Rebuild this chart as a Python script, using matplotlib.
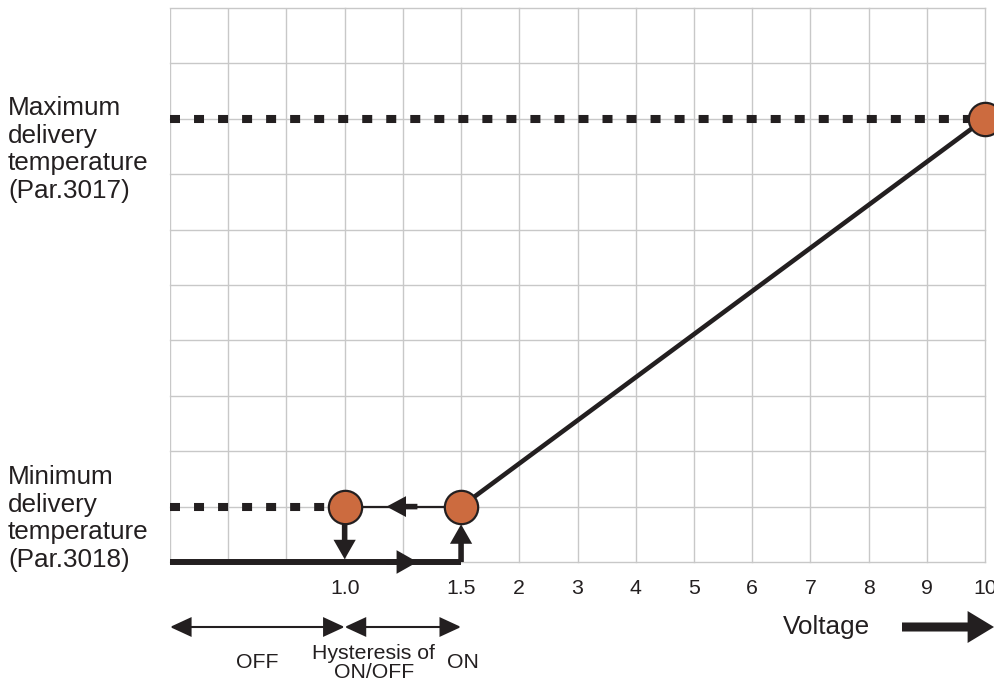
import numpy as np
import matplotlib
matplotlib.use("Agg")
import matplotlib.pyplot as plt
import matplotlib.transforms as mtransforms

plt.rcParams['font.family'] = ['Liberation Sans', 'DejaVu Sans']

# ---- data ----
voltage_ticks = [1.0, 1.5, 2, 3, 4, 5, 6, 7, 8, 9, 10]
tick_labels = ['1.0', '1.5', '2', '3', '4', '5', '6', '7', '8', '9', '10']
tick_positions = [3, 5, 6, 7, 8, 9, 10, 11, 12, 13, 14]   # grid column of each voltage tick
n_cols = 14
n_rows = 10

v_off = 1.0          # switch-off voltage
v_on = 1.5           # switch-on voltage
v_max = 10.0         # voltage for maximum temperature
level_min = 1        # minimum delivery temperature (grid row)
level_max = 8        # maximum delivery temperature (grid row)

curve_voltage = [v_on, v_max]
curve_level = [level_min, level_max]

max_label = "Maximum\ndelivery\ntemperature\n(Par.3017)"
min_label = "Minimum\ndelivery\ntemperature\n(Par.3018)"


def vpos(v):
    return np.interp(v, voltage_ticks, tick_positions)


W, H = 994, 681
fig = plt.figure(figsize=(W / 100, H / 100), dpi=100)
ax = fig.add_axes([170 / W, (H - 562) / H, 815 / W, 554 / H])
ax.set_xlim(0, n_cols)
ax.set_ylim(0, n_rows)
for s in ax.spines.values():
    s.set_visible(False)

ax.set_xticks(np.arange(0, n_cols + 1), minor=True)
ax.set_xticks(tick_positions)
ax.set_xticklabels(tick_labels, fontsize=15.3, color='#231f20')
ax.set_yticks(np.arange(0, n_rows + 1))
ax.set_yticklabels([])
ax.tick_params(which='both', length=0)
ax.tick_params(axis='x', pad=12)
ax.grid(True, which='both', color='#c8c8c8', lw=1.0)
ax.set_axisbelow(True)
for gl in ax.get_xgridlines() + ax.get_ygridlines():
    gl.set_clip_on(False)

black = '#231f20'
orange = '#cc6b3f'

x_off, x_on, x_max = vpos(v_off), vpos(v_on), vpos(v_max)

# dotted lines
lw_dot = 5.8
ls_dot = (0, (7.2 / lw_dot, 10.1 / lw_dot))
ax.plot([0, x_max], [level_max, level_max], color=black, lw=lw_dot, ls=ls_dot,
        dash_capstyle='butt', zorder=3, clip_on=False)
ax.plot([0, x_off], [level_min, level_min], color=black, lw=lw_dot, ls=ls_dot,
        dash_capstyle='butt', zorder=3)

# main curve
ax.plot([vpos(v) for v in curve_voltage], curve_level, color=black, lw=3.3,
        zorder=4, solid_capstyle='butt')
# thin connection between off and on
ax.plot([x_off, x_on], [level_min, level_min], color=black, lw=1.6, zorder=4)
# bottom thick line (off state)
ax.plot([0, x_on], [0, 0], color=black, lw=4.3, zorder=4, clip_on=False,
        solid_capstyle='butt')

mid = (x_off + x_on) / 2


def simple_arrow(tip, tail, hl=14, hw=16, tw=4.0, **kw):
    style = f'simple,head_length={hl},head_width={hw},tail_width={tw}'
    ax.annotate('', xy=tip, xytext=tail,
                arrowprops=dict(arrowstyle=style, mutation_scale=1, fc=black,
                                ec='none', lw=0, shrinkA=0, shrinkB=0),
                annotation_clip=False, zorder=5, **kw)


# left arrow on min line
simple_arrow((mid - 0.28, level_min), (mid + 0.25, level_min), hl=14, hw=15, tw=4.0)
# right arrow on bottom line
simple_arrow((mid + 0.25, 0), (mid - 0.28, 0), hl=15, hw=17, tw=4.3)
# down arrow at off
simple_arrow((x_off, 0.05), (x_off, 0.75), hl=14, hw=16, tw=4.0)
# up arrow at on
simple_arrow((x_on, 0.68), (x_on, 0.0), hl=14, hw=16, tw=4.0)

# circles
ax.plot([x_off, x_on, x_max], [level_min, level_min, level_max], 'o', ms=24,
        mfc=orange, mec=black, mew=1.6, zorder=6, clip_on=False)

# left labels
fig.text(8 / W, 1 - 96 / H, max_label, fontsize=18.8, color=black, va='top',
         ha='left', linespacing=1.19)
fig.text(8 / W, 1 - 465 / H, min_label, fontsize=18.8, color=black, va='top',
         ha='left', linespacing=1.19)

# bottom range arrows
y_arr = 1 - 627 / H
bt = mtransforms.blended_transform_factory(ax.transData, fig.transFigure)
dbl = dict(arrowstyle='<|-|>,head_length=1.3,head_width=0.6', mutation_scale=10,
           color=black, lw=1.5, shrinkA=0, shrinkB=0, joinstyle='miter')
ax.annotate('', xy=(x_off, y_arr), xytext=(0, y_arr),
            xycoords=('data', 'figure fraction'), textcoords=('data', 'figure fraction'),
            arrowprops=dbl, annotation_clip=False)
ax.annotate('', xy=(x_on, y_arr), xytext=(x_off, y_arr),
            xycoords=('data', 'figure fraction'), textcoords=('data', 'figure fraction'),
            arrowprops=dbl, annotation_clip=False)

y_txt = 1 - 662 / H
ax.text(x_off / 2, y_txt, "OFF", fontsize=15.3, color=black, ha='center', va='center',
        transform=bt)
ax.text(x_off + 0.5, 1 - 663 / H, "Hysteresis of\nON/OFF", fontsize=15.3, color=black,
        ha='center', va='center', multialignment='center', linespacing=1.05, transform=bt)
ax.text(x_on + 0.03, y_txt, "ON", fontsize=15.3, color=black, ha='center', va='center',
        transform=bt)

# Voltage label and arrow
fig.text(826 / W, 1 - 627 / H, "Voltage", fontsize=18.8, color=black,
         ha='center', va='center')
ax.annotate('', xy=(994 / W, y_arr), xytext=(902 / W, y_arr),
            xycoords='figure fraction', textcoords='figure fraction',
            arrowprops=dict(arrowstyle='simple,head_length=19,head_width=23,tail_width=6.5',
                            mutation_scale=1, fc=black, ec='none', lw=0,
                            shrinkA=0, shrinkB=0), annotation_clip=False)

fig.savefig('out.png', dpi=100)
